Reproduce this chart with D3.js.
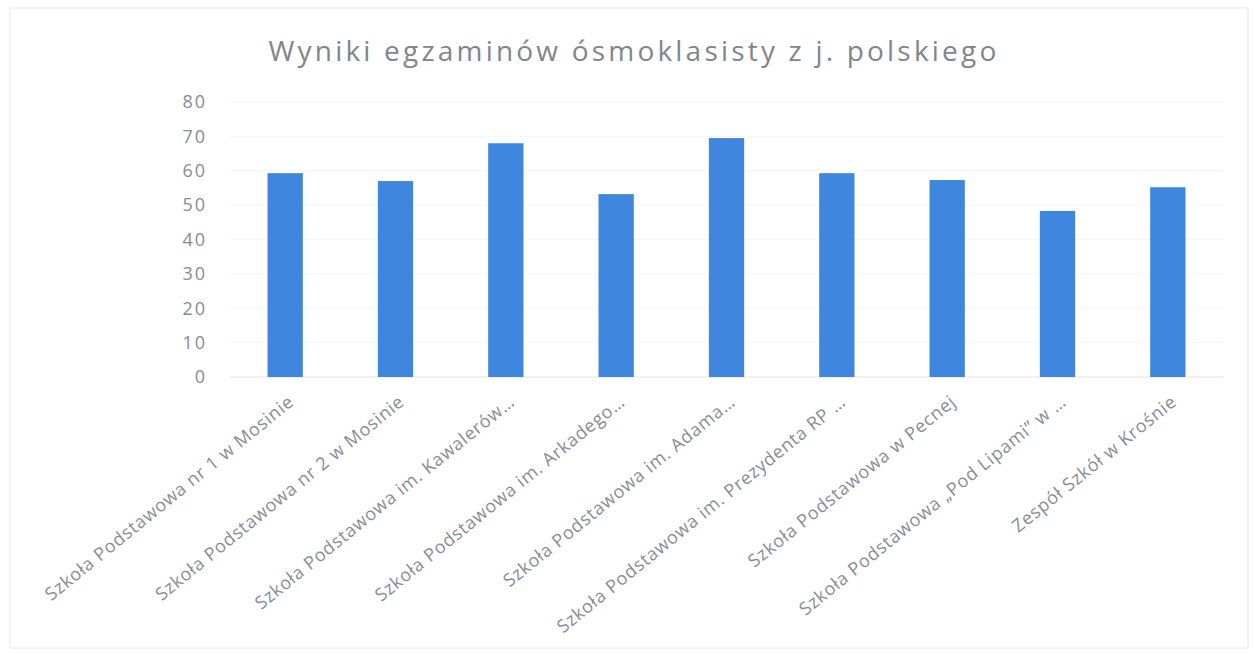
<!DOCTYPE html>
<html>
<head>
<meta charset="utf-8">
<script src="https://cdn.jsdelivr.net/npm/d3@7"></script>
<style>
  body { margin: 0; background: #fff; }
  text { font-family: "Open Sans", sans-serif; }
</style>
</head>
<body>
<svg id="chart" width="1255" height="654"></svg>
<script>
// data
var schools = [
  "Szkoła Podstawowa nr 1 w Mosinie",
  "Szkoła Podstawowa nr 2 w Mosinie",
  "Szkoła Podstawowa im. Kawalerów…",
  "Szkoła Podstawowa im. Arkadego…",
  "Szkoła Podstawowa im. Adama…",
  "Szkoła Podstawowa im. Prezydenta RP …",
  "Szkoła Podstawowa w Pecnej",
  "Szkoła Podstawowa „Pod Lipami” w …",
  "Zespół Szkół w Krośnie"
];
var scores = [59.3, 57.0, 68.0, 53.2, 69.5, 59.3, 57.3, 48.3, 55.2];
var yTicks = [0, 10, 20, 30, 40, 50, 60, 70, 80];
var title = "Wyniki egzaminów ósmoklasisty z j. polskiego";

var svg = d3.select("#chart");
var textColor = "#878c99";

// frame around the chart
svg.append("rect")
   .attr("x", 10).attr("y", 8)
   .attr("width", 1238).attr("height", 640)
   .attr("fill", "none")
   .attr("stroke", "#e6e6e6");

var xScale = d3.scaleBand().domain(schools)
                .range([230, 1223])
                .paddingInner(0.68)
                .paddingOuter(0.34);
var yScale = d3.scaleLinear().domain([0, 80])
                .range([377, 102]);

// light grid
svg.append("g")
   .selectAll("line")
   .data(yTicks)
   .join("line")
   .attr("x1", 230).attr("x2", 1223)
   .attr("y1", d => yScale(d)).attr("y2", d => yScale(d))
   .attr("stroke", d => d === 0 ? "#e2e2e2" : "#f5f5f5");

// y axis
var yAxis = svg.append("g")
   .attr("transform", "translate(207,0)")
   .call(d3.axisLeft(yScale).tickValues(yTicks).tickSize(0).tickPadding(0));
yAxis.select(".domain").remove();
yAxis.selectAll("text")
     .attr("fill", textColor)
     .style("font-size", "18px")
     .style("letter-spacing", "2px");

// bars
svg.append("g")
   .selectAll("rect")
   .data(scores)
   .join("rect")
   .attr("x", (d, i) => xScale(schools[i]))
   .attr("width", xScale.bandwidth())
   .attr("y", d => yScale(d))
   .attr("height", d => yScale(0) - yScale(d))
   .attr("fill", "#3f86de");

// rotated category labels
svg.append("g")
   .selectAll("text")
   .data(schools)
   .join("text")
   .attr("transform", d => {
       var cx = xScale(d) + xScale.bandwidth() / 2 + 10;
       return "translate(" + cx + ",404) rotate(-39)";
   })
   .attr("text-anchor", "end")
   .attr("fill", textColor)
   .style("font-size", "18px")
   .style("letter-spacing", "0.7px")
   .text(d => d);

// title
svg.append("text")
   .attr("x", 634).attr("y", 61)
   .attr("text-anchor", "middle")
   .attr("fill", "#80858f")
   .style("font-size", "28px")
   .style("letter-spacing", "3.2px")
   .text(title);
</script>
</body>
</html>
